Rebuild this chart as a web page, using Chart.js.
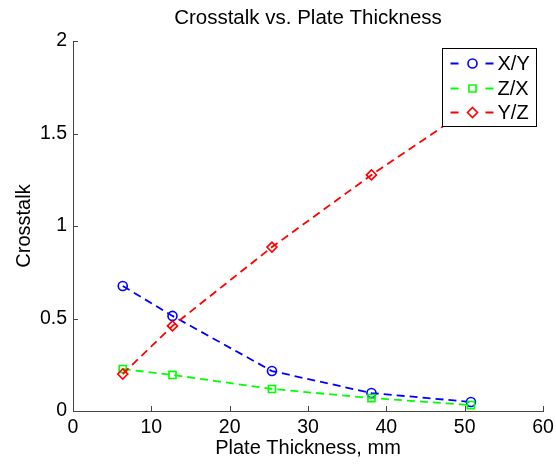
<!DOCTYPE html>
<html>
<head>
<meta charset="utf-8">
<title>Crosstalk vs. Plate Thickness</title>
<script src="https://cdn.jsdelivr.net/npm/chart.js@4.4.1/dist/chart.umd.min.js"></script>
<style>
  html, body { margin: 0; padding: 0; background: #fff; }
  canvas { display: block; }
</style>
</head>
<body>
<canvas id="grafica" width="556" height="465"></canvas>
<script>
// Valores
const espesores = [6.35, 12.7, 25.4, 38.1, 50.8];
const serieXY = [0.676, 0.514, 0.216, 0.097, 0.049];
const serieZX = [0.227, 0.195, 0.119, 0.07, 0.032];
const serieYZ = [0.2, 0.46, 0.886, 1.276, 1.64];
const nombres = ['X/Y', 'Z/X', 'Y/Z'];
const ticksX = [0, 10, 20, 30, 40, 50, 60];
const ticksY = [0, 0.5, 1, 1.5, 2];

const fuente = "'Liberation Sans', Arial, Helvetica, sans-serif";
Chart.defaults.font.family = fuente;
Chart.defaults.font.size = 19.5;
Chart.defaults.color = '#000';

function serie(nombre, valores, color, estilo, radio, orden) {
  return {
    label: nombre,
    data: espesores.map((e, i) => ({ x: e, y: valores[i] })),
    borderColor: color,
    backgroundColor: 'rgba(0,0,0,0)',
    borderWidth: 1.8,
    borderDash: [8, 5],
    pointStyle: estilo,
    pointRadius: radio,
    pointBorderWidth: 1.6,
    pointBorderColor: color,
    pointBackgroundColor: 'rgba(0,0,0,0)',
    tension: 0,
    fill: false,
    order: orden
  };
}

// dibuja un marcador como en la grafica
function marcador(ctx, estilo, r, x, y) {
  ctx.beginPath();
  if (estilo === 'circle') {
    ctx.arc(x, y, r, 0, Math.PI * 2);
  } else if (estilo === 'rect') {
    const s = Math.SQRT1_2 * r;
    ctx.rect(x - s, y - s, 2 * s, 2 * s);
  } else {
    ctx.moveTo(x, y - r);
    ctx.lineTo(x + r, y);
    ctx.lineTo(x, y + r);
    ctx.lineTo(x - r, y);
    ctx.closePath();
  }
  ctx.stroke();
}

// marcas hacia adentro y leyenda con recuadro
const marcasYLeyenda = {
  id: 'marcasYLeyenda',
  afterDraw(chart) {
    const ctx = chart.ctx;
    const { x, y } = chart.scales;
    const area = chart.chartArea;
    ctx.save();
    ctx.strokeStyle = '#444';
    ctx.lineWidth = 1;
    ctx.beginPath();
    x.ticks.forEach(t => {
      const px = Math.round(x.getPixelForValue(t.value)) + 0.5;
      ctx.moveTo(px, area.bottom);
      ctx.lineTo(px, area.bottom - 5);
    });
    y.ticks.forEach(t => {
      const py = Math.round(y.getPixelForValue(t.value)) + 0.5;
      ctx.moveTo(area.left, py);
      ctx.lineTo(area.left + 5, py);
    });
    ctx.stroke();

    // leyenda
    const ancho = 94, alto = 78;
    const izq = Math.round(area.right - 7 - ancho) + 0.5;
    const arriba = Math.round(area.top + 7) + 0.5;
    ctx.fillStyle = '#fff';
    ctx.fillRect(izq, arriba, ancho, alto);
    ctx.strokeStyle = '#000';
    ctx.strokeRect(izq, arriba, ancho, alto);
    const filas = [15, 40, 64];
    ctx.font = '20px ' + fuente;
    ctx.textBaseline = 'middle';
    ctx.textAlign = 'left';
    chart.data.datasets.forEach((ds, i) => {
      const fy = arriba + filas[i];
      ctx.strokeStyle = ds.borderColor;
      ctx.lineWidth = 1.8;
      ctx.beginPath();
      ctx.moveTo(izq + 8, fy); ctx.lineTo(izq + 16, fy);
      ctx.moveTo(izq + 43, fy); ctx.lineTo(izq + 51, fy);
      ctx.stroke();
      ctx.lineWidth = 1.6;
      marcador(ctx, ds.pointStyle, ds.pointRadius, izq + 30, fy);
      ctx.fillStyle = '#000';
      ctx.fillText(ds.label, izq + 55, fy + 1);
    });
    ctx.restore();
  }
};

new Chart(document.getElementById('grafica'), {
  type: 'line',
  data: {
    datasets: [
      serie(nombres[0], serieXY, '#0000ff', 'circle', 4.5, 3),
      serie(nombres[1], serieZX, '#00ff00', 'rect', 5, 2),
      serie(nombres[2], serieYZ, '#ff0000', 'rectRot', 5, 1)
    ]
  },
  options: {
    responsive: false,
    animation: false,
    layout: { padding: { left: 0, right: 13, top: 0, bottom: 0 } },
    plugins: {
      legend: { display: false },
      tooltip: { enabled: false },
      title: {
        display: true,
        text: 'Crosstalk vs. Plate Thickness',
        fullSize: false,
        padding: { top: 5.7, bottom: 10.7 },
        font: { size: 20.5, weight: 'normal' },
        color: '#000'
      }
    },
    scales: {
      x: {
        type: 'linear',
        min: 0,
        max: 60,
        afterBuildTicks: s => { s.ticks = ticksX.map(v => ({ value: v })); },
        afterFit: s => { s.height = 54; s.paddingLeft = 0; s.paddingRight = 0; },
        grid: { display: false, drawTicks: false },
        border: { display: true, color: '#444', width: 1 },
        ticks: { padding: 5, color: '#000', maxRotation: 0, callback: v => String(v) },
        title: { display: true, text: 'Plate Thickness, mm', padding: { top: 0, bottom: 5 }, color: '#000', font: { size: 20 } }
      },
      y: {
        min: 0,
        max: 2,
        afterBuildTicks: s => { s.ticks = ticksY.map(v => ({ value: v })); },
        afterFit: s => { s.width = 73; s.paddingTop = 0; s.paddingBottom = 0; },
        grid: { display: false, drawTicks: false },
        border: { display: true, color: '#444', width: 1 },
        ticks: { padding: 6, color: '#000', callback: v => String(v) },
        title: { display: true, text: 'Crosstalk', padding: { top: 12, bottom: 0 }, color: '#000', font: { size: 20 } }
      }
    }
  },
  plugins: [marcasYLeyenda]
});
</script>
</body>
</html>
